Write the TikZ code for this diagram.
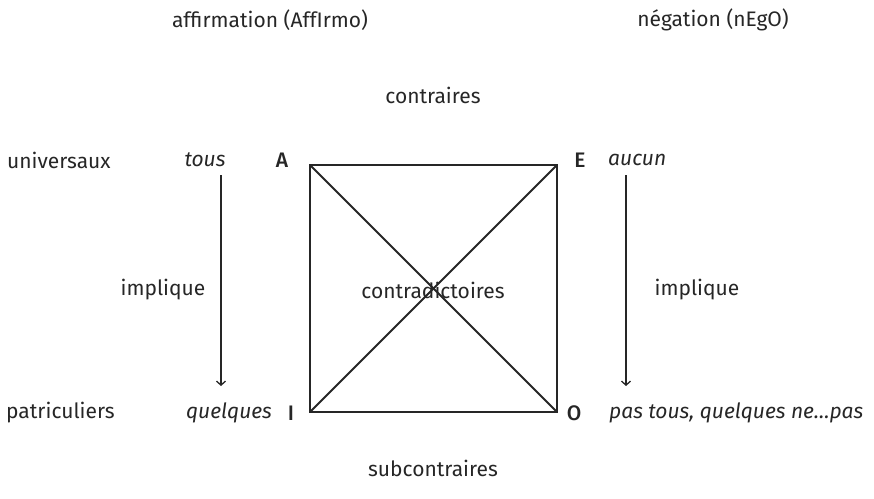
\documentclass[tikz,border=0pt]{standalone}
\usepackage{fontspec}
\setmainfont{Fira Sans}
\newfontfamily\medfont{Fira Sans Medium}
\usetikzlibrary{arrows.meta}
\begin{document}
\begin{tikzpicture}[x=1pt,y=-1pt,
  lbl/.style={inner sep=0pt,font=\fontsize{21}{25}\selectfont,text=black!85},
  corner/.style={lbl,font=\fontsize{21}{25}\selectfont\medfont},
  sq/.style={line width=2pt,black!85},
  impl/.style={line width=1.3pt,black!85,-{Straight Barb[length=4pt,width=9pt]}}]
\useasboundingbox (0,0) rectangle (874,498);
\coordinate (cA) at (310,165);
\coordinate (cE) at (557,165);
\coordinate (cI) at (310,412);
\coordinate (cO) at (557,412);
\draw[sq] (cA) -- (cE) -- (cO) -- (cI) -- cycle;
\draw[sq] (cA) -- (cO);
\draw[sq] (cE) -- (cI);
\node[lbl] (aff) at (270,20) {affirmation (AffIrmo)};
\node[lbl] (neg) at (713,20) {négation (nEgO)};
\node[lbl] (contr) at (433,95) {contraires};
\node[lbl,anchor=west] (univ) at (7,160) {universaux};
\node[lbl] (tous) at (205,160) {\itshape tous};
\node[corner] (A) at (282,160) {A};
\node[corner] (E) at (580,160) {E};
\node[lbl,anchor=west] (aucun) at (608,160) {\itshape aucun};
\coordinate (l1) at (221,175);
\coordinate (l2) at (221,386);
\coordinate (r1) at (626,175);
\coordinate (r2) at (626,386);
\draw[impl] (l1) -- (l2);
\draw[impl] (r1) -- (r2);
\node[lbl] (impL) at (163,290) {implique};
\node[lbl] (impR) at (697,290) {implique};
\node[lbl] (cd) at (433,290) {contradictoires};
\node[lbl,anchor=west] (part) at (6,413) {patriculiers};
\node[lbl] (quel) at (229,413) {\itshape quelques};
\node[corner] (I) at (291,413) {I};
\node[corner] (O) at (574,413) {O};
\node[lbl,anchor=west] (pas) at (609,413) {\itshape pas tous, quelques ne…pas};
\node[lbl] (sub) at (433,468) {subcontraires};
\end{tikzpicture}
\end{document}
